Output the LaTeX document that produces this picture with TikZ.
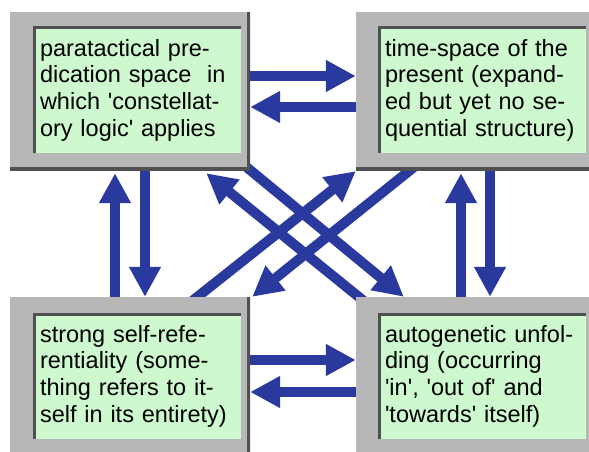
\documentclass[tikz,border=0pt]{standalone}
\usepackage{fontspec}
\newfontfamily\boxfont{Liberation Sans}[Ligatures=TeXOff]
\usetikzlibrary{arrows.meta}
\pgfdeclarelayer{back}
\pgfsetlayers{back,main}
\definecolor{arrowblue}{RGB}{42,57,158}
\definecolor{panelgray}{RGB}{183,183,183}
\definecolor{panelgreen}{RGB}{206,248,206}
\definecolor{edgedark}{RGB}{80,80,80}
\begin{document}
\begin{tikzpicture}[x=1pt,y=-1pt,
  arr/.style={arrowblue,line width=10pt,-{Triangle[length=30pt,width=30pt]}},
  frame/.style={fill=panelgray,minimum width=240pt,minimum height=158pt,inner sep=0pt,
    path picture={\draw[edgedark,line width=6pt]
      (path picture bounding box.north east) -- (path picture bounding box.south east)
      -- (path picture bounding box.south west);}},
  panel/.style={fill=panelgreen,minimum width=208pt,minimum height=126pt,
    text width=194pt,inner xsep=7pt,inner ysep=0pt,align=left,
    font=\boxfont\fontsize{23.5pt}{26.7pt}\selectfont,
    path picture={\draw[edgedark,line width=5pt]
      (path picture bounding box.south west) -- (path picture bounding box.north west)
      -- (path picture bounding box.north east);}}]
  \path[use as bounding box,clip] (0,0) rectangle (589,452);
  % the four boxes
  \node[frame] (tlbox) at (130,91) {};
  \node[panel] (tltext) at ([xshift=7pt,yshift=1pt]tlbox.center)
    {paratactical pre-\\dication space\ \ in\\which 'constellat-\\ory logic' applies};
  \node[frame] (trbox) at (476,91) {};
  \node[panel] (trtext) at ([xshift=6pt,yshift=1pt]trbox.center)
    {time-space of the\\present (expand-\\ed but yet no se-\\quential structure)};
  \node[frame] (blbox) at (130,376) {};
  \node[panel] (bltext) at ([xshift=7pt]blbox.center)
    {strong self-refe-\\rentiality (some-\\thing refers to it-\\self in its entirety)};
  \node[frame] (brbox) at (476,376) {};
  \node[panel] (brtext) at ([xshift=6pt]brbox.center)
    {autogenetic unfol-\\ding (occurring\\'in', 'out of' and\\'towards' itself)};
  \begin{pgfonlayer}{back}
    % rows
    \draw[arr] ([yshift=15pt]tlbox.east) -- ([yshift=15pt]trbox.west);
    \draw[arr] ([yshift=-16pt]trbox.west) -- ([yshift=-16pt]tlbox.east);
    \draw[arr] ([yshift=16pt]blbox.east) -- ([yshift=16pt]brbox.west);
    \draw[arr] ([yshift=-16pt]brbox.west) -- ([yshift=-16pt]blbox.east);
    % columns
    \draw[arr] ([xshift=-15pt]blbox.north) -- ([xshift=-15pt,yshift=-3pt]tlbox.south);
    \draw[arr] ([xshift=15pt]tlbox.south) -- ([xshift=15pt]blbox.north);
    \draw[arr] ([xshift=-15pt]brbox.north) -- ([xshift=-15pt,yshift=-3pt]trbox.south);
    \draw[arr] ([xshift=14pt]trbox.south) -- ([xshift=14pt]brbox.north);
    % diagonals
    \draw[arr] ([shift={(9pt,-5pt)}]brbox.north west) -- ([shift={(-44pt,-3pt)}]tlbox.south east);
    \draw[arr] ([shift={(-6pt,5pt)}]tlbox.south east) -- ([xshift=48pt]brbox.north west);
    \draw[arr] ([shift={(-59pt,-5pt)}]blbox.north east) -- ([yshift=-1pt]trbox.south west);
    \draw[arr] ([shift={(58pt,3pt)}]trbox.south west) -- ([xshift=2pt]blbox.north east);
  \end{pgfonlayer}
\end{tikzpicture}
\end{document}
